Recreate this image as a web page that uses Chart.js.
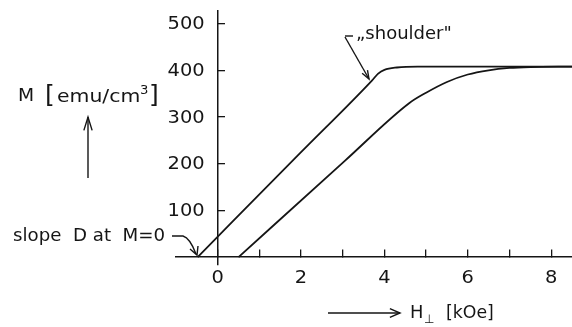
<!DOCTYPE html>
<html>
<head>
<meta charset="utf-8">
<script src="https://cdn.jsdelivr.net/npm/chart.js@4"></script>
<style>
  html, body { margin: 0; padding: 0; background: #fff; }
</style>
</head>
<body>
<canvas id="mh" width="572" height="327"></canvas>
<script>
// curve with the "shoulder" (left) and the rounded one (right), H in kOe, M in emu/cm3
const fieldA = [-0.48, 1.97, 3.7, 3.85, 4.0, 4.3, 4.8, 8.5];
const momentA = [0, 222, 378, 393, 401, 406, 408, 408];
const fieldB = [0.5, 3.05, 4.6, 5.0, 5.5, 6.0, 6.5, 7.0, 7.5, 8.5];
const momentB = [0, 206, 330, 352, 375, 391, 400, 405, 407, 408];

const xTicks = [0, 1, 2, 3, 4, 5, 6, 7, 8];
const xLabels = ["0", "", "2", "", "4", "", "6", "", "8"];
const yTicks = [100, 200, 300, 400, 500];

const INK = "#151515";
const FONT = '"DejaVu Sans", sans-serif';

const toPoints = (xs, ys) => xs.map((x, i) => ({ x: x, y: ys[i] }));

// text a bit wider than DejaVu, like the lettering of the original
function wideText(c, txt, x, y, size, stretch, align) {
  c.save();
  c.font = size + "px " + FONT;
  c.textAlign = align || "left";
  c.textBaseline = "middle";
  c.translate(x, y);
  c.scale(stretch, 1);
  c.fillText(txt, 0, 0);
  c.restore();
}

function arrow(c, x1, y1, x2, y2, len, spread) {
  c.beginPath();
  c.moveTo(x1, y1);
  c.lineTo(x2, y2);
  c.stroke();
  const a = Math.atan2(y2 - y1, x2 - x1);
  c.beginPath();
  c.moveTo(x2 - len * Math.cos(a - spread), y2 - len * Math.sin(a - spread));
  c.lineTo(x2, y2);
  c.lineTo(x2 - len * Math.cos(a + spread), y2 - len * Math.sin(a + spread));
  c.stroke();
}

// tick labels (from the scales) plus the hand lettering around the axes
const notes = {
  id: "notes",
  afterDraw(chart) {
    const c = chart.ctx;
    const xs = chart.scales.x, ys = chart.scales.y;
    const x0 = xs.getPixelForValue(0), y0 = ys.getPixelForValue(0);
    c.save();
    c.fillStyle = INK;
    c.strokeStyle = INK;
    c.lineWidth = 1.4;

    xTicks.forEach((v, i) => {
      if (xLabels[i]) wideText(c, xLabels[i], xs.getPixelForValue(v), y0 + 21, 18, 1.08, "center");
    });
    yTicks.forEach(v => {
      wideText(c, String(v), x0 - 13, ys.getPixelForValue(v) + 1, 18, 1.08, "right");
    });

    // y axis title + up arrow
    wideText(c, "M", 18, 97, 17, 1.1);
    wideText(c, "[", 45, 96, 25, 1.0);
    wideText(c, "emu/cm", 57, 98, 17, 1.2);
    wideText(c, "3", 140, 91, 12, 1.1);
    wideText(c, "]", 149, 96, 25, 1.0);
    arrow(c, 88, 178, 88, 117, 14, 0.3);

    // x axis title with arrow
    arrow(c, 328, 313, 400, 313, 11, 0.4);
    wideText(c, "H", 410, 314, 17, 1.05);
    wideText(c, "⊥", 424, 320, 12, 1.0);
    wideText(c, "[kOe]", 446, 314, 17, 1.02);

    // "shoulder"
    wideText(c, "„shoulder\"", 356, 35, 17, 1.06);
    c.beginPath();
    c.moveTo(353, 36);
    c.lineTo(345, 36);
    c.stroke();
    arrow(c, 345, 37, 369, 79, 9, 0.35);

    // slope D at M=0
    wideText(c, "slope  D at  M=0", 13, 237, 17, 1.07);
    c.beginPath();
    c.moveTo(172, 236);
    c.lineTo(183, 236);
    c.quadraticCurveTo(190, 238, 196, 254);
    c.stroke();
    c.beginPath();
    c.moveTo(190, 249);
    c.lineTo(197, 255);
    c.lineTo(198, 246);
    c.stroke();
    c.restore();
  }
};

new Chart(document.getElementById("mh"), {
  type: "line",
  data: {
    datasets: [
      {
        data: toPoints(fieldA, momentA),
        borderColor: INK,
        borderWidth: 1.8,
        pointRadius: 0,
        cubicInterpolationMode: "monotone"
      },
      {
        data: toPoints(fieldB, momentB),
        borderColor: INK,
        borderWidth: 1.8,
        pointRadius: 0,
        cubicInterpolationMode: "monotone"
      }
    ]
  },
  options: {
    responsive: false,
    animation: false,
    devicePixelRatio: 1,
    layout: { padding: { left: 176, right: 0, top: 11, bottom: 62 } },
    plugins: { legend: { display: false }, tooltip: { enabled: false } },
    scales: {
      x: {
        type: "linear",
        min: -1,
        max: 8.5,
        position: { y: 0 },
        afterBuildTicks: s => { s.ticks = xTicks.map(v => ({ value: v })); },
        border: { display: true, color: INK, width: 1.5 },
        grid: { drawOnChartArea: false, drawTicks: true, tickLength: -8, color: INK, lineWidth: 1.3 },
        ticks: { display: false }
      },
      y: {
        type: "linear",
        min: -17,
        max: 527,
        position: { x: 0 },
        afterBuildTicks: s => { s.ticks = yTicks.map(v => ({ value: v })); },
        border: { display: true, color: INK, width: 1.5 },
        grid: { drawOnChartArea: false, drawTicks: true, tickLength: -8, color: INK, lineWidth: 1.3 },
        ticks: { display: false }
      }
    }
  },
  plugins: [notes]
});
</script>
</body>
</html>
